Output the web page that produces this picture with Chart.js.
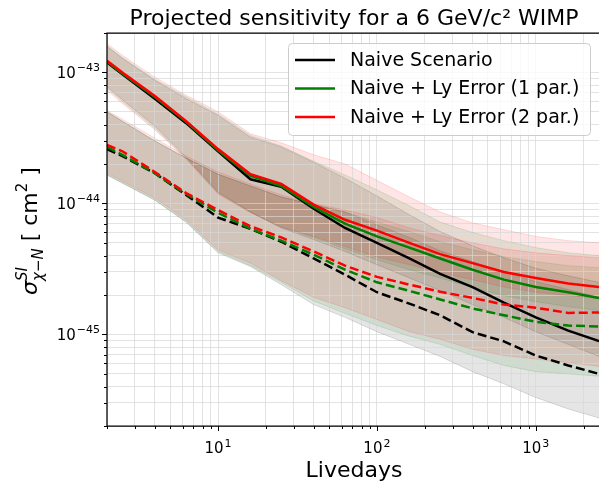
<!DOCTYPE html>
<html>
<head>
<meta charset="utf-8">
<script src="https://cdn.jsdelivr.net/npm/chart.js@4.4.0/dist/chart.umd.min.js"></script>
<style>
  html, body { margin: 0; padding: 0; background: #fff; }
  canvas { display: block; }
</style>
</head>
<body>
<canvas id="chart" width="599" height="482"></canvas>
<script>
// x: livedays, y: cross section in cm^2
const livedays = [2, 2.5, 4, 6.3, 10, 16, 25, 40, 63, 100, 160, 250, 400, 630, 1000, 1600, 2500];

const seriesLabels = ['Naive Scenario', 'Naive + Ly Error (1 par.)', 'Naive + Ly Error (2 par.)'];
const seriesColors = ['#000000', '#008000', '#ff0000'];
const seriesRgb = ['0,0,0', '0,128,0', '255,0,0'];

// solid curves
const naiveSolid = [1.19e-43, 9.7e-44, 6.3e-44, 4.1e-44, 2.5e-44, 1.53e-44, 1.34e-44, 9.1e-45, 6.5e-45, 5.0e-45, 3.8e-45, 2.9e-45, 2.3e-45, 1.75e-45, 1.35e-45, 1.07e-45, 8.9e-46];
const naiveSolidHi = [1.58e-43, 1.28e-43, 8.7e-44, 6.3e-44, 4.7e-44, 3.2e-44, 2.7e-44, 2.06e-44, 1.56e-44, 1.14e-44, 8.2e-45, 6.1e-45, 4.75e-45, 3.85e-45, 3.2e-45, 2.8e-45, 2.5e-45];
const naiveSolidLo = [7.8e-44, 6.2e-44, 3.9e-44, 2.26e-44, 1.22e-44, 8.6e-45, 6.5e-45, 5.3e-45, 4.3e-45, 3.41e-45, 2.7e-45, 2.16e-45, 1.69e-45, 1.35e-45, 1.05e-45, 8.4e-46, 6.8e-46];

const ly1Solid = [1.21e-43, 9.8e-44, 6.5e-44, 4.2e-44, 2.55e-44, 1.62e-44, 1.36e-44, 9.4e-45, 7.0e-45, 5.6e-45, 4.6e-45, 3.8e-45, 3.12e-45, 2.62e-45, 2.3e-45, 2.1e-45, 1.9e-45];
const ly1SolidHi = [1.6e-43, 1.3e-43, 8.85e-44, 6.5e-44, 4.8e-44, 3.3e-44, 2.75e-44, 2.1e-44, 1.65e-44, 1.27e-44, 9.6e-45, 7.2e-45, 6.0e-45, 5.2e-45, 4.6e-45, 4.2e-45, 4.0e-45];
const ly1SolidLo = [7.6e-44, 6.0e-44, 3.75e-44, 2.2e-44, 1.2e-44, 8.6e-45, 6.6e-45, 5.5e-45, 4.5e-45, 3.72e-45, 3.12e-45, 2.7e-45, 2.28e-45, 1.98e-45, 1.78e-45, 1.63e-45, 1.52e-45];

const ly2Solid = [1.23e-43, 1.0e-43, 6.6e-44, 4.25e-44, 2.6e-44, 1.67e-44, 1.41e-44, 9.8e-45, 7.5e-45, 6.2e-45, 5.0e-45, 4.1e-45, 3.5e-45, 3.0e-45, 2.7e-45, 2.45e-45, 2.3e-45];
const ly2SolidHi = [1.66e-43, 1.35e-43, 9.2e-44, 6.7e-44, 5.0e-44, 3.4e-44, 2.9e-44, 2.35e-44, 2.0e-44, 1.5e-44, 1.12e-44, 8.6e-45, 7.1e-45, 6.3e-45, 5.6e-45, 5.2e-45, 5.0e-45];
const ly2SolidLo = [7.3e-44, 5.8e-44, 3.65e-44, 2.18e-44, 1.18e-44, 8.5e-45, 6.6e-45, 5.6e-45, 4.7e-45, 3.9e-45, 3.41e-45, 2.96e-45, 2.62e-45, 2.3e-45, 2.1e-45, 1.98e-45, 1.88e-45];

// dashed curves
const naiveDashed = [2.6e-44, 2.3e-44, 1.7e-44, 1.16e-44, 7.8e-45, 6.4e-45, 5.1e-45, 3.8e-45, 2.86e-45, 2.1e-45, 1.72e-45, 1.4e-45, 1.04e-45, 8.85e-46, 6.9e-46, 5.8e-46, 5.0e-46];
const naiveDashedHi = [5.0e-44, 4.24e-44, 3.0e-44, 2.22e-44, 1.67e-44, 1.36e-44, 1.12e-44, 9.8e-45, 8.6e-45, 6.86e-45, 5.5e-45, 4.35e-45, 3.6e-45, 3.0e-45, 2.53e-45, 2.2e-45, 1.92e-45];
const naiveDashedLo = [1.65e-44, 1.43e-44, 1.06e-44, 7.2e-45, 4.2e-45, 3.3e-45, 2.4e-45, 1.69e-45, 1.35e-45, 1.05e-45, 8.4e-46, 6.8e-46, 5.2e-46, 4.2e-46, 3.3e-46, 2.7e-46, 2.3e-46];

const ly1Dashed = [2.7e-44, 2.35e-44, 1.7e-44, 1.18e-44, 8.5e-45, 6.4e-45, 5.2e-45, 4.06e-45, 3.12e-45, 2.5e-45, 2.15e-45, 1.85e-45, 1.58e-45, 1.4e-45, 1.25e-45, 1.17e-45, 1.15e-45];
const ly1DashedHi = [5.0e-44, 4.24e-44, 3.0e-44, 2.22e-44, 1.67e-44, 1.36e-44, 1.12e-44, 9.8e-45, 8.6e-45, 7.2e-45, 6.1e-45, 5.1e-45, 4.43e-45, 3.92e-45, 3.6e-45, 3.35e-45, 3.23e-45];
const ly1DashedLo = [1.65e-44, 1.43e-44, 1.06e-44, 7.2e-45, 4.3e-45, 3.35e-45, 2.5e-45, 1.8e-45, 1.45e-45, 1.17e-45, 9.7e-46, 8.4e-46, 6.9e-46, 5.8e-46, 5.2e-46, 5.0e-46, 4.8e-46];

const ly2Dashed = [2.8e-44, 2.5e-44, 1.74e-44, 1.2e-44, 8.9e-45, 6.7e-45, 5.5e-45, 4.3e-45, 3.35e-45, 2.75e-45, 2.4e-45, 2.12e-45, 1.9e-45, 1.69e-45, 1.6e-45, 1.46e-45, 1.47e-45];
const ly2DashedHi = [5.1e-44, 4.4e-44, 3.15e-44, 2.3e-44, 1.74e-44, 1.41e-44, 1.16e-44, 1.0e-44, 8.9e-45, 7.8e-45, 6.5e-45, 5.7e-45, 5.0e-45, 4.5e-45, 4.2e-45, 4.0e-45, 3.85e-45];
const ly2DashedLo = [1.71e-44, 1.48e-44, 1.1e-44, 7.5e-45, 4.43e-45, 3.5e-45, 2.57e-45, 1.92e-45, 1.6e-45, 1.3e-45, 1.05e-45, 9.2e-46, 7.7e-46, 6.9e-46, 6.5e-46, 6.1e-46, 5.7e-46];

// axes
const xMin = 2, xMax = 2500;
const yMin = 2e-46, yMax = 2e-43;
const xTickValues = [10, 100, 1000];
const xTickExps = ['1', '2', '3'];
const yTickValues = [1e-45, 1e-44, 1e-43];
const yTickExps = ['−45', '−44', '−43'];

const titleText = 'Projected sensitivity for a 6 GeV/c² WIMP';
const xTitle = 'Livedays';

const FONT = '"DejaVu Sans", sans-serif';

function pts(arr) {
    return livedays.map((d, i) => ({ x: d, y: arr[i] }));
}

function band(hi, lo, rgb, order) {
    const edge = `rgba(${rgb},0.13)`;
    return [
        { data: pts(hi), fill: '+1', backgroundColor: `rgba(${rgb},0.1)`, borderColor: edge, borderWidth: 1, order },
        { data: pts(lo), fill: false, borderColor: edge, borderWidth: 1, order },
    ];
}

function curve(vals, color, dashed, order) {
    return { data: pts(vals), borderColor: color, borderWidth: 2.5, borderDash: dashed ? [9, 4] : [], fill: false, order };
}

// 1..9 x 10^n between lo and hi
function logTicks(lo, hi) {
    const out = [];
    for (let e = Math.floor(Math.log10(lo)); e <= Math.ceil(Math.log10(hi)); e++) {
        for (let n = 1; n <= 9; n++) {
            const v = n * Math.pow(10, e);
            if (v >= lo * (1 - 1e-9) && v <= hi * (1 + 1e-9)) out.push({ value: v });
        }
    }
    return out;
}

function tickKind(v) {
    const e = Math.floor(Math.log10(v) + 1e-9);
    const s = v / Math.pow(10, e);
    if (Math.abs(s - Math.round(s)) > 1e-6) return null;
    return Math.round(s) === 1 ? 'major' : 'minor';
}

// "10" with a raised exponent, like mathtext
function drawPow(ctx, exp, px, baseline, align) {
    ctx.font = `15px ${FONT}`;
    const wb = ctx.measureText('10').width;
    ctx.font = `11px ${FONT}`;
    const we = ctx.measureText(exp).width;
    const w = wb + 1 + we;
    const x0 = align === 'center' ? px - w / 2 : px - w;
    ctx.font = `15px ${FONT}`;
    ctx.fillText('10', x0, baseline);
    ctx.font = `11px ${FONT}`;
    ctx.fillText(exp, x0 + wb + 1, baseline - 6.5);
}

const datasets = [
    ...band(naiveSolidHi, naiveSolidLo, seriesRgb[0], 13),
    ...band(naiveDashedHi, naiveDashedLo, seriesRgb[0], 13),
    ...band(ly1SolidHi, ly1SolidLo, seriesRgb[1], 12),
    ...band(ly1DashedHi, ly1DashedLo, seriesRgb[1], 12),
    ...band(ly2SolidHi, ly2SolidLo, seriesRgb[2], 11),
    ...band(ly2DashedHi, ly2DashedLo, seriesRgb[2], 11),
    curve(naiveSolid, seriesColors[0], false, 3),
    curve(naiveDashed, seriesColors[0], true, 3),
    curve(ly1Solid, seriesColors[1], false, 2),
    curve(ly1Dashed, seriesColors[1], true, 2),
    curve(ly2Solid, seriesColors[2], false, 1),
    curve(ly2Dashed, seriesColors[2], true, 1),
];

const decor = {
    id: 'decor',
    afterDraw(chart) {
        const { ctx, chartArea: a, scales: { x, y } } = chart;
        ctx.save();

        // tick marks, outward
        ctx.strokeStyle = '#000';
        ctx.lineWidth = 1;
        x.ticks.forEach(t => {
            const kind = tickKind(t.value);
            if (!kind) return;
            const px = Math.round(x.getPixelForValue(t.value)) + 0.5;
            const len = kind === 'major' ? 5 : 3;
            ctx.beginPath();
            ctx.moveTo(px, a.bottom);
            ctx.lineTo(px, a.bottom + len);
            ctx.stroke();
        });
        y.ticks.forEach(t => {
            const kind = tickKind(t.value);
            if (!kind) return;
            const py = Math.round(y.getPixelForValue(t.value)) + 0.5;
            const len = kind === 'major' ? 5 : 3;
            ctx.beginPath();
            ctx.moveTo(a.left - len, py);
            ctx.lineTo(a.left, py);
            ctx.stroke();
        });

        // spines
        ctx.lineWidth = 1.25;
        ctx.beginPath();
        ctx.moveTo(a.left, a.bottom);
        ctx.lineTo(a.left, a.top);
        ctx.lineTo(a.right, a.top);
        ctx.moveTo(a.left, a.bottom);
        ctx.lineTo(a.right, a.bottom);
        ctx.stroke();

        // tick labels
        ctx.fillStyle = '#000';
        ctx.textAlign = 'left';
        ctx.textBaseline = 'alphabetic';
        xTickValues.forEach((v, i) => {
            drawPow(ctx, xTickExps[i], x.getPixelForValue(v), 453, 'center');
        });
        yTickValues.forEach((v, i) => {
            drawPow(ctx, yTickExps[i], 100, y.getPixelForValue(v) + 5.5, 'right');
        });

        // title
        ctx.textAlign = 'center';
        ctx.font = `22px ${FONT}`;
        ctx.fillText(titleText, 354, 25);

        // x title
        ctx.font = `22px ${FONT}`;
        ctx.fillText(xTitle, 354, 477);

        // y title: sigma^{SI}_{chi-N} [ cm^2 ]
        const pieces = [
            { t: 'σ', f: `italic 22px ${FONT}`, dy: 0 },
            { t: 'SI', f: `italic 15px ${FONT}`, dy: -10, stack: true },
            { t: 'χ−N', f: `italic 15px ${FONT}`, dy: 6 },
            { t: ' [ cm', f: `22px ${FONT}`, dy: 0 },
            { t: '2', f: `15px ${FONT}`, dy: -10 },
            { t: ' ]', f: `22px ${FONT}`, dy: 0 },
        ];
        const widths = pieces.map(p => { ctx.font = p.f; return ctx.measureText(p.t).width; });
        const advance = (i) => (i > 0 && pieces[i - 1].stack) ? Math.max(widths[i - 1], widths[i]) : widths[i];
        let total = 0;
        pieces.forEach((p, i) => { if (!p.stack) total += advance(i); });
        ctx.translate(37, 231);
        ctx.rotate(-Math.PI / 2);
        ctx.textAlign = 'left';
        let cx = -total / 2;
        pieces.forEach((p, i) => {
            ctx.font = p.f;
            ctx.fillText(p.t, cx, p.dy);
            if (!p.stack) cx += advance(i);
        });
        ctx.setTransform(1, 0, 0, 1, 0, 0);

        // legend
        ctx.fillStyle = 'rgba(255,255,255,0.8)';
        ctx.strokeStyle = '#cccccc';
        ctx.lineWidth = 1;
        ctx.beginPath();
        ctx.roundRect(288.5, 43.5, 302, 92, 4);
        ctx.fill();
        ctx.stroke();
        ctx.font = `19px ${FONT}`;
        ctx.textAlign = 'left';
        ctx.textBaseline = 'middle';
        seriesLabels.forEach((label, i) => {
            const cy = 60 + i * 28.5;
            ctx.strokeStyle = seriesColors[i];
            ctx.lineWidth = 2.5;
            ctx.beginPath();
            ctx.moveTo(295, cy);
            ctx.lineTo(335, cy);
            ctx.stroke();
            ctx.fillStyle = '#000';
            ctx.fillText(label, 350, cy + 1);
        });

        ctx.restore();
    },
};

Chart.defaults.font.family = FONT;

new Chart(document.getElementById('chart'), {
    type: 'line',
    data: { datasets },
    options: {
        responsive: false,
        animation: false,
        layout: { padding: { top: 33, right: 0, bottom: 0, left: 0 } },
        elements: {
            point: { radius: 0, hoverRadius: 0 },
            line: { tension: 0 },
        },
        plugins: {
            legend: { display: false },
            tooltip: { enabled: false },
            filler: { drawTime: 'beforeDraw' },
        },
        scales: {
            x: {
                type: 'logarithmic',
                min: xMin,
                max: xMax,
                afterBuildTicks: (scale) => { scale.ticks = logTicks(xMin, xMax); },
                afterFit: (scale) => { scale.height = 56; },
                grid: { color: 'rgba(215,215,215,0.7)', lineWidth: 1, drawTicks: false },
                border: { display: false },
                ticks: { display: false, autoSkip: false },
            },
            y: {
                type: 'logarithmic',
                min: yMin,
                max: yMax,
                afterBuildTicks: (scale) => { scale.ticks = logTicks(yMin, yMax); },
                afterFit: (scale) => { scale.width = 107; },
                grid: { color: 'rgba(215,215,215,0.7)', lineWidth: 1, drawTicks: false },
                border: { display: false },
                ticks: { display: false, autoSkip: false },
            },
        },
    },
    plugins: [decor],
});
</script>
</body>
</html>
